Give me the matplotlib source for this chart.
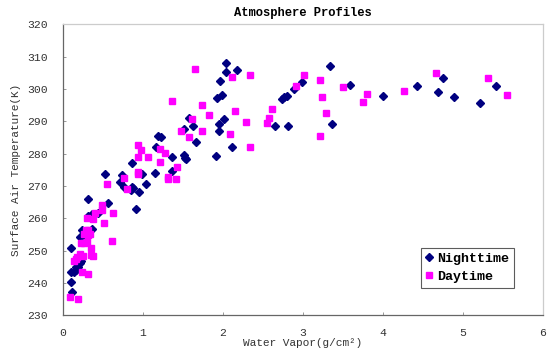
import matplotlib
matplotlib.use("Agg")
import matplotlib.pyplot as plt

# Nighttime observations (water vapor g/cm^2, surface air temperature K)
night_wv = [0.10, 0.10, 0.10, 0.12, 0.14, 0.16, 0.17, 0.19, 0.21, 0.23, 0.22, 0.24,
            0.27, 0.31, 0.32, 0.37, 0.44, 0.37, 0.53, 0.57, 0.72, 0.74, 0.76, 0.87,
            0.85, 0.87, 0.88, 0.92, 0.95, 0.99, 1.04, 1.15, 1.17, 1.19, 1.23, 1.36,
            1.36, 1.51, 1.53, 1.54, 1.52, 1.58, 1.63, 1.66, 1.92, 1.93, 1.96, 1.99,
            1.95, 1.95, 2.01, 2.04, 2.04, 2.12, 2.18, 2.65, 2.74, 2.77, 2.80, 2.82,
            2.89, 2.99, 3.34, 3.37, 3.59, 4.00, 4.43, 4.75, 4.69, 4.89, 5.21, 5.42]
night_t = [250.9, 243.5, 240.3, 237.3, 243.5, 244.0, 245.0, 245.0, 246.3, 246.8, 254.1, 256.3,
           255.0, 260.7, 265.9, 261.2, 261.8, 256.6, 273.7, 264.8, 271.3, 273.4, 269.7, 277.1,
           268.8, 269.8, 269.3, 262.8, 268.2, 273.7, 270.7, 273.9, 281.9, 285.5, 285.0, 274.7,
           279.1, 279.5, 278.8, 278.2, 287.5, 291.1, 288.4, 283.6, 279.3, 297.2, 302.4, 298.1,
           289.1, 287.0, 290.6, 307.9, 305.3, 282.0, 305.9, 288.4, 296.9, 297.5, 297.9, 288.4,
           299.9, 302.0, 307.1, 289.3, 301.3, 297.8, 300.8, 303.4, 299.1, 297.5, 295.7, 300.9]

# Daytime observations
day_wv = [0.09, 0.19, 0.14, 0.16, 0.18, 0.22, 0.25, 0.23, 0.27, 0.30, 0.26, 0.29,
          0.31, 0.30, 0.32, 0.34, 0.35, 0.24, 0.32, 0.35, 0.38, 0.38, 0.40, 0.49,
          0.49, 0.52, 0.55, 0.61, 0.63, 0.76, 0.80, 0.94, 0.94, 0.94, 0.94, 0.98,
          1.06, 1.22, 1.22, 1.28, 1.31, 1.31, 1.36, 1.42, 1.43, 1.48, 1.58, 1.61,
          1.65, 1.74, 1.74, 1.83, 2.09, 2.12, 2.15, 2.29, 2.34, 2.34, 2.55, 2.58,
          2.62, 2.91, 3.01, 3.22, 3.22, 3.24, 3.29, 3.50, 3.75, 3.80, 4.26, 4.67,
          5.32, 5.55]
day_t = [235.7, 235.0, 246.8, 247.3, 248.0, 248.9, 248.4, 252.5, 252.5, 252.7, 255.3, 256.3,
         256.3, 260.2, 255.0, 255.3, 250.9, 243.4, 242.8, 248.6, 248.4, 259.8, 261.6, 264.1,
         262.5, 258.5, 270.5, 253.1, 261.6, 272.4, 269.0, 274.4, 273.7, 282.8, 279.1, 281.1,
         279.1, 281.5, 277.4, 280.2, 272.8, 272.1, 296.3, 272.3, 275.9, 286.9, 285.0, 290.6,
         306.3, 295.0, 286.9, 291.8, 286.2, 303.7, 293.2, 289.9, 304.2, 282.0, 289.6, 290.9,
         293.9, 300.9, 304.4, 302.9, 285.6, 297.6, 292.6, 300.6, 296.0, 298.4, 299.5, 304.8,
         303.4, 298.0]

x_ticks = [0, 1, 2, 3, 4, 5, 6]
y_ticks = [230, 240, 250, 260, 270, 280, 290, 300, 310, 320]

mono = ["Liberation Mono", "DejaVu Sans Mono"]

fig = plt.figure(figsize=(5.5, 3.56), dpi=100)
ax = fig.add_axes([0.114, 0.114, 0.873, 0.818])

ax.plot(night_wv, night_t, linestyle="none", marker="D", markersize=3.6,
        color="#000080", label="Nighttime")
ax.plot(day_wv, day_t, linestyle="none", marker="s", markersize=4.4,
        color="#ff00ff", label="Daytime")

ax.set_xlim(0, 6)
ax.set_ylim(230, 320)
ax.set_xticks(x_ticks)
ax.set_yticks(y_ticks)
ax.tick_params(direction="in", length=2.5, width=0.6, colors="#888888",
               labelsize=8.2, labelcolor="#333333")
ax.tick_params(axis="y", pad=11)
ax.tick_params(axis="x", pad=9)
for lab in ax.get_xticklabels() + ax.get_yticklabels():
    lab.set_family(mono)

for side in ("left", "bottom"):
    ax.spines[side].set_color("#666666")
    ax.spines[side].set_linewidth(0.9)
for side in ("top", "right"):
    ax.spines[side].set_color("#cccccc")
    ax.spines[side].set_linewidth(0.9)

ax.set_title("Atmosphere Profiles", family=mono, fontsize=8.7,
             fontweight="bold", pad=6)
ax.set_xlabel("Water Vapor(g/cm²)", family=mono, fontsize=8, labelpad=0,
              color="#333333")
ax.set_ylabel("Surface Air Temperature(K)", family=mono, fontsize=8,
              labelpad=4, color="#333333")

leg = ax.legend(loc="lower right", bbox_to_anchor=(0.94, 0.095),
                prop={"family": mono, "weight": "bold", "size": 9.6},
                handlelength=0.6, handletextpad=0.3, borderpad=0.35,
                labelspacing=0.45, fancybox=False, frameon=True,
                borderaxespad=0, markerscale=1.0)
leg.get_frame().set_edgecolor("#333333")
leg.get_frame().set_linewidth(0.8)

fig.savefig("out.png", dpi=100)
